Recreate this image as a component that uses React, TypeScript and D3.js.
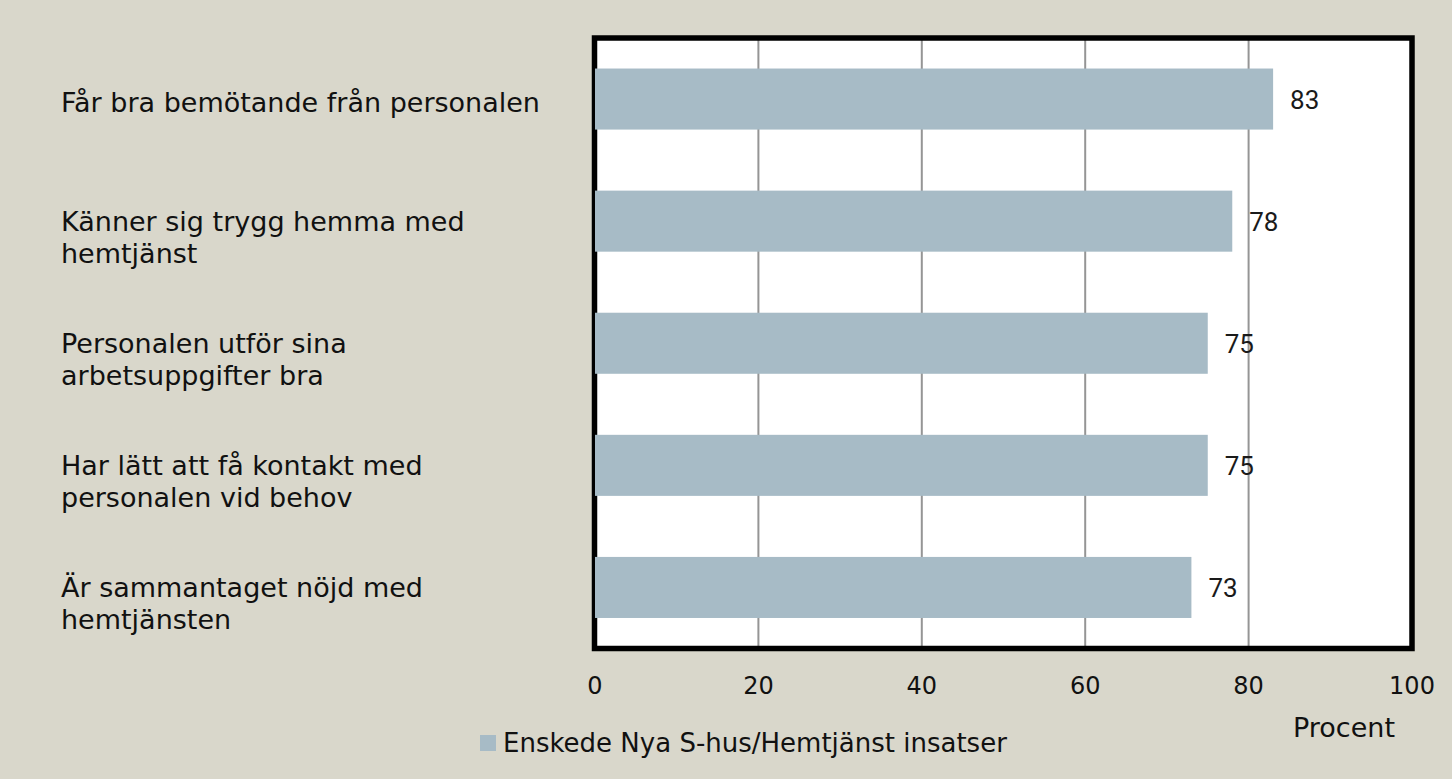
import React, { useEffect, useRef } from 'react';
import * as d3 from 'd3';

// Survey results, percent satisfied
const categories = [
  ['Får bra bemötande från personalen'],
  ['Känner sig trygg hemma med', 'hemtjänst'],
  ['Personalen utför sina', 'arbetsuppgifter bra'],
  ['Har lätt att få kontakt med', 'personalen vid behov'],
  ['Är sammantaget nöjd med', 'hemtjänsten'],
];
const values = [83, 78, 75, 75, 73];
const xTicks = [0, 20, 40, 60, 80, 100];
const seriesName = 'Enskede Nya S-hus/Hemtjänst insatser';
const axisTitle = 'Procent';

const W = 1452;
const H = 779;
const labelFont = "'DejaVu Sans', sans-serif";
const valueFont = "Roboto, sans-serif";

const App = () => {
  const ref = useRef<SVGSVGElement>(null);

  useEffect(() => {
    const svg = d3.select(ref.current);
    svg.selectAll('*').remove();

    const plot = { left: 595, right: 1412, top: 38, bottom: 648.5 };

    const x = d3.scaleLinear().domain([0, 100]).range([plot.left, plot.right]);
    const y = d3.scaleBand<number>()
      .domain(d3.range(categories.length))
      .range([plot.top, plot.bottom])
      .paddingInner(0.5)
      .paddingOuter(0.25);

    svg.append('rect').attr('width', W).attr('height', H).attr('fill', '#d9d7cb');

    // plot area
    svg.append('rect')
      .attr('x', plot.left).attr('y', plot.top)
      .attr('width', plot.right - plot.left).attr('height', plot.bottom - plot.top)
      .attr('fill', '#fff');

    // gridlines
    svg.append('g')
      .selectAll('line')
      .data(xTicks.slice(1, -1))
      .enter().append('line')
      .attr('x1', d => x(d)).attr('x2', d => x(d))
      .attr('y1', plot.top).attr('y2', plot.bottom)
      .attr('stroke', '#959595').attr('stroke-width', 2);

    // border
    svg.append('rect')
      .attr('x', plot.left - 0.5).attr('y', plot.top)
      .attr('width', plot.right - plot.left + 0.5).attr('height', plot.bottom - plot.top)
      .attr('fill', 'none').attr('stroke', '#000').attr('stroke-width', 5.5);

    // bars
    svg.append('g')
      .selectAll('rect')
      .data(values)
      .enter().append('rect')
      .attr('x', x(0))
      .attr('y', (_, i) => y(i)!)
      .attr('width', d => x(d) - x(0))
      .attr('height', y.bandwidth())
      .attr('fill', '#a7bbc6');

    // value labels
    svg.append('g')
      .selectAll('text')
      .data(values)
      .enter().append('text')
      .attr('x', d => x(d) + 17)
      .attr('y', (_, i) => y(i)! + y.bandwidth() / 2 + 10)
      .attr('font-family', valueFont)
      .attr('font-size', 26)
      .attr('fill', '#1a1a1a')
      .text(d => d);

    // category labels
    const cat = svg.append('g')
      .attr('font-family', labelFont)
      .attr('font-size', 27)
      .attr('fill', '#111');
    categories.forEach((lines, i) => {
      const cy = y(i)! + y.bandwidth() / 2;
      const t = cat.append('text').attr('x', 61).attr('y', cy + (lines.length === 1 ? 13 : 10));
      lines.forEach((ln, j) => {
        t.append('tspan').attr('x', 61).attr('dy', j === 0 ? 0 : 32).text(ln);
      });
    });

    // x axis tick labels
    svg.append('g')
      .selectAll('text')
      .data(xTicks)
      .enter().append('text')
      .attr('x', d => x(d))
      .attr('y', 694)
      .attr('text-anchor', 'middle')
      .attr('font-family', labelFont)
      .attr('font-size', 24)
      .attr('fill', '#111')
      .text(d => d);

    svg.append('text')
      .attr('x', 1344).attr('y', 737)
      .attr('text-anchor', 'middle')
      .attr('font-family', labelFont)
      .attr('font-size', 27)
      .attr('fill', '#111')
      .text(axisTitle);

    // legend
    svg.append('rect')
      .attr('x', 480).attr('y', 735).attr('width', 16).attr('height', 16)
      .attr('fill', '#a7bbc6');
    svg.append('text')
      .attr('x', 503).attr('y', 752)
      .attr('font-family', labelFont)
      .attr('font-size', 26)
      .attr('fill', '#111')
      .text(seriesName);
  }, []);

  return (
    <svg ref={ref} width={W} height={H}
      style={{ position: 'absolute', left: 0, top: 0, display: 'block' }} />
  );
};

export default App;
